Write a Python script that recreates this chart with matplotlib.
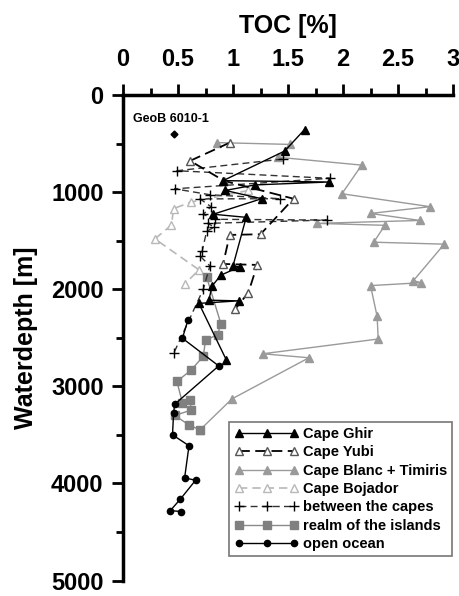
import matplotlib
matplotlib.use("Agg")
import matplotlib.pyplot as plt
from matplotlib.ticker import MultipleLocator

plt.rcParams['font.family'] = ['Liberation Sans', 'DejaVu Sans']
plt.rcParams['font.weight'] = 'bold'

# ---- data (TOC [%], water depth [m]) ----
ghir_toc = [1.65, 1.47, 0.91, 1.87, 1.20, 0.93, 1.26, 0.82, 1.12, 1.00, 1.06, 0.89, 0.81, 0.78, 1.05, 0.69, 0.94]
ghir_depth = [356, 577, 882, 896, 926, 983, 1068, 1228, 1260, 1760, 1770, 1855, 1967, 2113, 2120, 2146, 2730]

yubi_toc = [0.97, 0.61, 0.92, 1.55, 1.25, 0.97, 0.91, 1.22, 1.14, 1.02]
yubi_depth = [491, 678, 885, 1068, 1434, 1441, 1740, 1750, 2034, 2204]

blanc_toc = [0.85, 1.52, 1.41, 2.17, 1.99, 2.79, 2.25, 2.70, 1.76, 2.38, 2.28, 2.92, 2.64, 2.71, 2.25, 2.31, 2.32, 1.27, 1.69, 0.99, 0.70]
blanc_depth = [490, 509, 641, 722, 1017, 1150, 1220, 1292, 1322, 1342, 1516, 1536, 1912, 1933, 1963, 2279, 2513, 2665, 2706, 3130, 3449]

boj_toc = [1.14, 0.62, 0.46, 0.44, 0.29, 0.69, 0.56]
boj_depth = [983, 1102, 1170, 1340, 1482, 1800, 1950]

btw_toc = [1.45, 0.49, 1.88, 0.47, 0.79, 1.43, 0.70, 0.80, 0.73, 0.84, 1.85, 0.77, 0.83, 0.76, 0.72, 0.70, 0.79, 0.73, 0.46]
btw_depth = [660, 780, 858, 966, 1027, 1068, 1070, 1150, 1230, 1280, 1288, 1322, 1360, 1404, 1607, 1658, 1760, 2000, 2662]

isl_toc = [0.76, 0.89, 0.86, 0.75, 0.73, 0.62, 0.49, 0.54, 0.61, 0.62, 0.47, 0.60, 0.70]
isl_depth = [1874, 2356, 2468, 2526, 2690, 2832, 2950, 3170, 3143, 3245, 3300, 3398, 3449]

oo_toc = [0.59, 0.54, 0.87, 0.47, 0.46, 0.45, 0.60, 0.56, 0.66, 0.52, 0.43, 0.53]
oo_depth = [2320, 2505, 2790, 3185, 3272, 3500, 3612, 3944, 3967, 4164, 4280, 4290]

geob_toc = [0.46]
geob_depth = [400]

x_ticks = [0, 0.5, 1, 1.5, 2, 2.5, 3]
x_ticklabels = ['0', '0.5', '1', '1.5', '2', '2.5', '3']
y_ticks = [0, 1000, 2000, 3000, 4000, 5000]

fig = plt.figure(figsize=(4.6, 5.96), dpi=100)
ax = fig.add_axes([0.2674, 0.026, 0.7174, 0.8146])

ax.plot(blanc_toc, blanc_depth, color='#9a9a9a', lw=1.0, marker='^', ms=5.5,
        mfc='#9a9a9a', mec='#9a9a9a', label='Cape Blanc + Timiris', zorder=2)
ax.plot(boj_toc, boj_depth, color='#b8b8b8', lw=1.2, ls=(0, (5, 3)), marker='^', ms=5.5,
        mfc='white', mec='#b8b8b8', label='Cape Bojador', zorder=2)
ax.plot(isl_toc, isl_depth, color='#8a8a8a', lw=1.0, marker='s', ms=5.5,
        mfc='#808080', mec='#808080', label='realm of the islands', zorder=3)
ax.plot(btw_toc, btw_depth, color='#333333', lw=1.0, ls=(0, (5, 3)), marker='+', ms=6.5,
        mew=1.0, mec='black', label='between the capes', zorder=4)
ax.plot(yubi_toc, yubi_depth, color='black', lw=1.3, ls=(0, (6, 3)), marker='^', ms=5.5,
        mfc='white', mec='#555555', label='Cape Yubi', zorder=4)
ax.plot(ghir_toc, ghir_depth, color='black', lw=1.0, marker='^', ms=5.5,
        mfc='black', mec='black', label='Cape Ghir', zorder=5)
ax.plot(oo_toc, oo_depth, color='black', lw=1.0, marker='o', ms=4.5,
        mfc='black', mec='black', label='open ocean', zorder=5)
ax.plot(geob_toc, geob_depth, ls='none', marker='D', ms=3.5, color='black', zorder=6)
ax.text(0.09, 250, 'GeoB 6010-1', fontsize=9, fontweight='bold', va='center', ha='left')

ax.set_xlim(0, 3)
ax.set_ylim(5000, 0)
ax.xaxis.tick_top()
ax.xaxis.set_label_position('top')
ax.set_xticks(x_ticks)
ax.set_xticklabels(x_ticklabels)
ax.set_yticks(y_ticks)
ax.xaxis.set_minor_locator(MultipleLocator(0.25))
ax.yaxis.set_minor_locator(MultipleLocator(500))
ax.tick_params(axis='both', which='major', width=2, length=8, labelsize=17, direction='out')
ax.tick_params(axis='x', which='major', pad=9)
ax.tick_params(axis='y', which='major', pad=6)
ax.tick_params(axis='both', which='minor', width=2, length=5, direction='out')
for lab in ax.get_xticklabels() + ax.get_yticklabels():
    lab.set_fontweight('bold')
for s in ['right', 'bottom']:
    ax.spines[s].set_visible(False)
for s in ['left', 'top']:
    ax.spines[s].set_linewidth(2.5)

ax.set_xlabel('TOC [%]', fontsize=18, fontweight='bold', labelpad=11)
ax.set_ylabel('Waterdepth [m]', fontsize=18, fontweight='bold', labelpad=9)

handles, labels = ax.get_legend_handles_labels()
order = ['Cape Ghir', 'Cape Yubi', 'Cape Blanc + Timiris', 'Cape Bojador',
         'between the capes', 'realm of the islands', 'open ocean']
hmap = dict(zip(labels, handles))
leg = ax.legend([hmap[o] for o in order], order, loc='lower right', numpoints=3,
                fontsize=10.5, frameon=True, fancybox=False, edgecolor='#555555',
                handlelength=4.4, handletextpad=0.3, borderpad=0.35, labelspacing=0.3,
                borderaxespad=0, bbox_to_anchor=(0.998, 0.05))
leg.get_frame().set_linewidth(1.2)
for t in leg.get_texts():
    t.set_fontweight('bold')

fig.savefig('out.png', dpi=100)
